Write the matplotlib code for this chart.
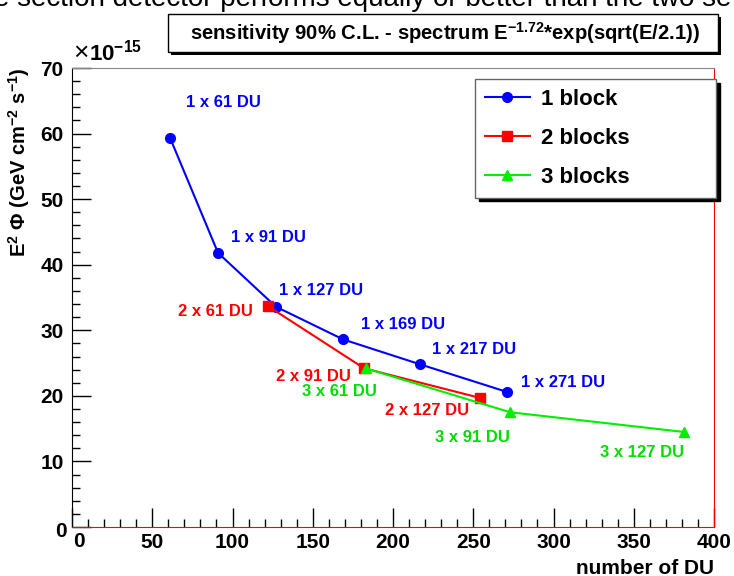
import matplotlib
matplotlib.use("Agg")
import matplotlib.pyplot as plt
from matplotlib.patches import Rectangle

plt.rcParams['font.family'] = ['Liberation Sans', 'DejaVu Sans']
plt.rcParams['mathtext.fontset'] = 'custom'
plt.rcParams['mathtext.rm'] = 'Liberation Sans:bold'
plt.rcParams['mathtext.it'] = 'Liberation Sans:bold'
plt.rcParams['mathtext.bf'] = 'Liberation Sans:bold'
plt.rcParams['mathtext.default'] = 'rm'

# Data (flux in units of 1e-15)
du_1 = [61, 91, 127, 169, 217, 271]
flux_1 = [59.4, 41.8, 33.6, 28.6, 24.8, 20.6]
lab_1 = ["1 x 61 DU", "1 x 91 DU", "1 x 127 DU", "1 x 169 DU", "1 x 217 DU", "1 x 271 DU"]

du_2 = [122, 182, 254]
flux_2 = [33.7, 24.2, 19.7]
lab_2 = ["2 x 61 DU", "2 x 91 DU", "2 x 127 DU"]

du_3 = [183, 273, 381]
flux_3 = [24.2, 17.5, 14.5]
lab_3 = ["3 x 61 DU", "3 x 91 DU", "3 x 127 DU"]

# label anchor positions (data coords)
lab_pos_1 = [(71, 64.7), (99, 44.2), (129, 36.0), (180, 30.9), (224, 27.1), (280, 22.1)]
lab_pos_2 = [(66, 32.8), (127, 23.0), (195, 17.8)]
lab_pos_3 = [(143, 20.7), (226, 13.7), (329, 11.3)]

fig = plt.figure(figsize=(7.34, 5.76), dpi=100)
ax = fig.add_axes([72/734, 49/576, 642/734, 459/576])

ax.plot(du_1, flux_1, color='#0000ff', marker='o', ms=7, lw=1.5, label='1 block')
ax.plot(du_2, flux_2, color='#ff0000', marker='s', ms=7.5, lw=1.5, label='2 blocks')
ax.plot(du_3, flux_3, color='#00ee00', marker='^', ms=7, lw=1.5, label='3 blocks')

for (x, y), t in zip(lab_pos_1, lab_1):
    ax.text(x, y, t, color='#0000ff', fontsize=12, fontweight='bold', va='center')
for (x, y), t in zip(lab_pos_2, lab_2):
    ax.text(x, y, t, color='#ff0000', fontsize=12, fontweight='bold', va='center')
for (x, y), t in zip(lab_pos_3, lab_3):
    ax.text(x, y, t, color='#00dd00', fontsize=12, fontweight='bold', va='center')

ax.set_xlim(0, 400)
ax.set_ylim(0, 70)
ax.set_xticks(range(0, 401, 50))
ax.set_xticks(range(0, 401, 10), minor=True)
ax.set_yticks(range(0, 71, 10))
ax.set_yticks(range(0, 71, 2), minor=True)
ax.set_xticklabels([str(v) if v else '' for v in range(0, 401, 50)])
ax.set_yticklabels([str(v) if v else '' for v in range(0, 71, 10)])
ax.tick_params(which='both', direction='in', top=False, right=False, labelsize=15, width=1)
ax.tick_params(which='major', length=14)
ax.tick_params(which='minor', length=6)
ax.tick_params(axis='x', pad=4)
ax.tick_params(axis='y', pad=6)
for lbl in ax.get_xticklabels() + ax.get_yticklabels():
    lbl.set_fontweight('bold')
ax.text(-3.5, 0.8, '0', fontsize=15, fontweight='bold', ha='right', va='top')
ax.text(0.5, -0.8, '0', fontsize=15, fontweight='bold', ha='left', va='top')

ax.spines['left'].set_color('black')
ax.spines['bottom'].set_color('#ff0000')
ax.spines['right'].set_color('#ff0000')
ax.spines['top'].set_color('#888888')

ax.set_xlabel('number of DU', fontsize=15, fontweight='bold', loc='right', labelpad=5)
ax.set_ylabel(r'E$^2$ $\Phi$ (GeV cm$^{-2}$ s$^{-1}$)', fontsize=14.5, fontweight='bold',
              loc='top', labelpad=6)
ax.text(0.002, 1.006, '\u00d7', transform=ax.transAxes, fontsize=19,
        fontweight='normal', va='bottom')
ax.text(0.027, 1.006, r'10$^{-15}$', transform=ax.transAxes, fontsize=16,
        fontweight='bold', va='bottom')

leg = ax.legend(loc='upper left', bbox_to_anchor=(0.628, 0.976, 0.375, 0.0), mode='expand',
                prop={'weight': 'bold', 'size': 16}, frameon=True, fancybox=False,
                handlelength=2.0, handletextpad=0.5, labelspacing=0.8, borderpad=0.45,
                borderaxespad=0, shadow={'ox': 2.6, 'oy': -2.6, 'color': 'black', 'alpha': 1})
leg.get_frame().set_edgecolor('#666666')
leg.get_frame().set_linewidth(1)

# title box with shadow
fig.add_artist(Rectangle((171/734, 1-55/576), 550/734, 38/576, transform=fig.transFigure,
                         facecolor='black', edgecolor='none'))
fig.add_artist(Rectangle((168/734, 1-52/576), 550/734, 38/576, transform=fig.transFigure,
                         facecolor='white', edgecolor='black', lw=1))
fig.text(445/734, 1-33/576, r'sensitivity 90% C.L. - spectrum E$^{-1.72}$*exp(sqrt(E/2.1))',
         fontsize=14.6, fontweight='bold', ha='center', va='center')

# partially visible text from page above
fig.text(-6/734, 1-6/576, 'e section detector performs equally or better than the two se',
         fontsize=20, ha='left', va='baseline')

fig.savefig('out.png', dpi=100)
